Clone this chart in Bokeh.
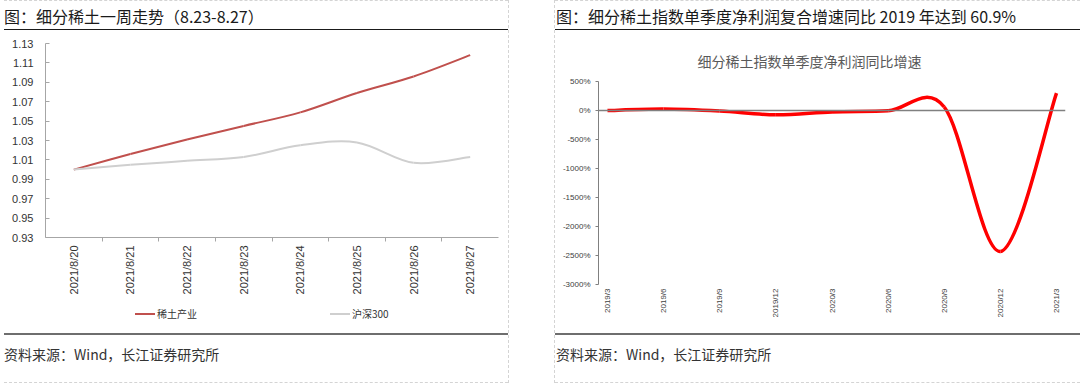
import math
from bokeh.plotting import figure
from bokeh.models import (Range1d, FixedTicker, PrintfTickFormatter,
                          Span, Title, Div, Spacer, ColumnDataSource)
from bokeh.layouts import row, column
from bokeh.embed import file_html
from bokeh.resources import INLINE

# ---------------- data ----------------
dates = ["2021/8/20", "2021/8/21", "2021/8/22", "2021/8/23",
         "2021/8/24", "2021/8/25", "2021/8/26", "2021/8/27"]
rare_earth = [1.000, 1.016, 1.031, 1.045, 1.059, 1.079, 1.096, 1.118]
hs300 = [1.000, 1.005, 1.009, 1.013, 1.025, 1.028, 1.007, 1.013]
left_y_ticks = [0.93, 0.95, 0.97, 0.99, 1.01, 1.03, 1.05, 1.07, 1.09, 1.11, 1.13]
series_names = ["稀土产业", "沪深300"]
series_colors = ["#c0504d", "#cfcfcf"]

quarters = ["2019/3", "2019/6", "2019/9", "2019/12", "2020/3",
            "2020/6", "2020/9", "2020/12", "2021/3"]
profit_growth = [0, 25, -10, -75, -25, -5, 60, -2430, 300]
right_y_ticks = [500, 0, -500, -1000, -1500, -2000, -2500, -3000]

left_heading = "图：细分稀土一周走势（8.23-8.27）"
right_heading = "图：细分稀土指数单季度净利润复合增速同比 2019 年达到 60.9%"
right_chart_title = "细分稀土指数单季度净利润同比增速"
source_text = "资料来源：Wind，长江证券研究所"

CJK = "Noto Sans CJK SC"
LAT = "Liberation Sans"
DASH = "1px dashed #d4d4d4"


def smooth_segments(xs, ys):
    """Bezier control points (Excel-like smoothing) for consecutive data points."""
    n = len(xs)
    d = dict(x0=[], y0=[], x1=[], y1=[], cx0=[], cy0=[], cx1=[], cy1=[])
    for i in range(n - 1):
        i0 = max(i - 1, 0)
        i3 = min(i + 2, n - 1)
        d["x0"].append(xs[i]); d["y0"].append(ys[i])
        d["x1"].append(xs[i + 1]); d["y1"].append(ys[i + 1])
        d["cx0"].append(xs[i] + (xs[i + 1] - xs[i0]) / 6.0)
        d["cy0"].append(ys[i] + (ys[i + 1] - ys[i0]) / 6.0)
        d["cx1"].append(xs[i + 1] - (xs[i3] - xs[i]) / 6.0)
        d["cy1"].append(ys[i + 1] - (ys[i3] - ys[i]) / 6.0)
    return ColumnDataSource(d)


def heading_div(text, width, size, pad_left):
    return Div(text=text, width=width, height=30, margin=(0, 0, 0, 0),
               styles={"box-sizing": "border-box",
                       "border-bottom": "1.5px solid #1a1a1a",
                       "border-top": DASH,
                       "font-family": CJK, "font-size": size, "color": "#1a1a1a",
                       "line-height": "16px", "padding-top": "7px",
                       "padding-left": pad_left, "white-space": "nowrap"})


def source_div(width, pad_left):
    return Div(text=source_text, width=width, height=50, margin=(0, 0, 0, 0),
               styles={"box-sizing": "border-box",
                       "border-top": "2px solid #6e6e6e",
                       "border-bottom": DASH,
                       "font-family": CJK, "font-size": "14px", "color": "#333333",
                       "line-height": "16px", "padding-top": "11px",
                       "padding-left": pad_left, "white-space": "nowrap"})


def legend_div(width):
    gaps = [131, 133]
    parts = []
    for name, color, g in zip(series_names, series_colors, gaps):
        parts.append('<span style="display:inline-block;width:20px;height:2px;'
                     'background:%s;vertical-align:middle;margin-left:%dpx"></span>'
                     '<span style="margin-left:2px;vertical-align:middle">%s</span>'
                     % (color, g, name))
    return Div(text="".join(parts), width=width, height=30, margin=(0, 0, 0, 0),
               styles={"box-sizing": "border-box", "font-family": CJK,
                       "font-size": "10px", "color": "#333333", "line-height": "16px",
                       "padding-top": "2px", "white-space": "nowrap"})


# ---------------- left chart ----------------
xl = list(range(len(dates)))
pl = figure(width=504, height=273, output_backend="svg", toolbar_location=None,
            x_range=Range1d(-0.5, len(dates) - 0.5), y_range=Range1d(0.93, 1.13),
            min_border_left=41, min_border_right=10, min_border_top=13, min_border_bottom=66)
pl.outline_line_color = None
pl.grid.visible = False

for vals, color in zip([rare_earth, hs300], series_colors):
    pl.bezier(x0="x0", y0="y0", x1="x1", y1="y1", cx0="cx0", cy0="cy0", cx1="cx1", cy1="cy1",
              source=smooth_segments(xl, vals), line_color=color, line_width=2)

ya = pl.yaxis[0]
ya.ticker = FixedTicker(ticks=left_y_ticks)
ya.formatter = PrintfTickFormatter(format="%.2f")
ya.axis_line_color = "#a6a6a6"
ya.major_tick_line_color = "#a6a6a6"
ya.major_tick_in = 4
ya.major_tick_out = 0
ya.minor_tick_line_color = None
ya.major_label_standoff = 12
ya.major_label_text_font = LAT
ya.major_label_text_font_size = "11px"
ya.major_label_text_color = "#333333"

xa = pl.xaxis[0]
xa.ticker = FixedTicker(ticks=xl, minor_ticks=[i + 0.5 for i in xl[:-1]])
xa.major_label_overrides = {i: d for i, d in enumerate(dates)}
xa.axis_line_color = "#a6a6a6"
xa.major_tick_line_color = None
xa.major_tick_out = 4
xa.major_tick_in = 0
xa.minor_tick_line_color = "#a6a6a6"
xa.minor_tick_out = 4
xa.minor_tick_in = 0
xa.major_label_orientation = math.pi / 2
xa.major_label_standoff = 4
xa.major_label_text_font = LAT
xa.major_label_text_font_size = "11px"
xa.major_label_text_color = "#333333"

# ---------------- right chart ----------------
xr = list(range(len(quarters)))
pr = figure(width=525, height=303, output_backend="svg", toolbar_location=None,
            x_range=Range1d(-0.16, len(quarters) - 1 + 0.16), y_range=Range1d(-3000, 500),
            min_border_left=43, min_border_right=15, min_border_top=51, min_border_bottom=49)
pr.outline_line_color = None
pr.grid.visible = False
pr.add_layout(Title(text=right_chart_title, align="left", offset=99, standoff=22,
                    text_font=CJK, text_font_size="14px", text_font_style="normal",
                    text_color="#595959"), "above")

pr.add_layout(Span(location=0, dimension="width", line_color="#808080", line_width=1.5))
pr.bezier(x0="x0", y0="y0", x1="x1", y1="y1", cx0="cx0", cy0="cy0", cx1="cx1", cy1="cy1",
          source=smooth_segments(xr, profit_growth), line_color="#ff0000", line_width=3.5)

ya2 = pr.yaxis[0]
ya2.ticker = FixedTicker(ticks=right_y_ticks)
ya2.formatter = PrintfTickFormatter(format="%d%%")
ya2.axis_line_color = "#808080"
ya2.major_tick_line_color = "#808080"
ya2.major_tick_in = 0
ya2.major_tick_out = 3
ya2.minor_tick_line_color = None
ya2.major_label_standoff = 5
ya2.major_label_text_font = LAT
ya2.major_label_text_font_size = "8px"
ya2.major_label_text_color = "#404040"

xa2 = pr.xaxis[0]
xa2.ticker = FixedTicker(ticks=xr)
xa2.major_label_overrides = {i: q for i, q in enumerate(quarters)}
xa2.axis_line_color = None
xa2.major_tick_line_color = None
xa2.minor_tick_line_color = None
xa2.major_tick_out = 0
xa2.major_label_orientation = math.pi / 2
xa2.major_label_standoff = 4
xa2.major_label_text_font = LAT
xa2.major_label_text_font_size = "8px"
xa2.major_label_text_color = "#404040"

# ---------------- layout ----------------
left_col = column(heading_div(left_heading, 504, "16px", "0px"), pl, legend_div(504),
                  source_div(504, "0px"))
right_col = column(heading_div(right_heading, 525, "16px", "1px"), pr, source_div(525, "1px"))
gap = Div(text="", width=47, height=383, margin=(0, 0, 0, 0),
          styles={"box-sizing": "border-box", "border-left": DASH, "border-right": DASH})
layout = row(Spacer(width=4, height=383), left_col, gap, right_col)

open("out.html", "w").write(file_html(layout, INLINE))
